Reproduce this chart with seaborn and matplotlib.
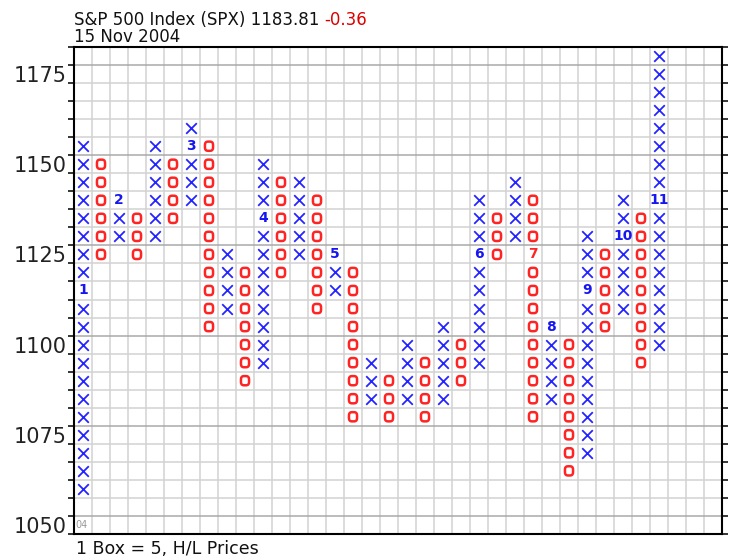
import numpy as np
import pandas as pd
import seaborn as sns
import matplotlib.pyplot as plt
from matplotlib.path import Path

# Point & figure columns, box size 5 (1-based column numbers)
col_kind = list('XOXOXOXOXOXOXOXOXOXOXOXOXOXOXOXOX')
col_low = [1060, 1125, 1130, 1125, 1130, 1135, 1140, 1105, 1110, 1090, 1095,
           1120, 1125, 1110, 1115, 1080, 1085, 1080, 1085, 1080, 1085, 1090,
           1095, 1125, 1130, 1080, 1085, 1065, 1070, 1105, 1110, 1095, 1100]
col_high = [1155, 1150, 1140, 1135, 1155, 1150, 1160, 1155, 1125, 1120, 1150,
            1145, 1145, 1140, 1125, 1120, 1095, 1090, 1100, 1095, 1105, 1100,
            1140, 1135, 1145, 1140, 1105, 1100, 1130, 1125, 1140, 1135, 1180]

# month markers that replace a box
month_col = [1, 3, 7, 11, 15, 23, 26, 27, 29, 31, 33]
month_price = [1115, 1140, 1155, 1135, 1125, 1125, 1125, 1105, 1115, 1130, 1140]
month_label = ['1', '2', '3', '4', '5', '6', '7', '8', '9', '10', '11']

ytick_vals = [1050, 1075, 1100, 1125, 1150, 1175]
box = 5
n_cols = 36

blue = '#2424ff'
red = '#ff2424'

# build one row per box
rows = []
marked = set(zip(month_col, month_price))
for i, (k, lo, hi) in enumerate(zip(col_kind, col_low, col_high)):
    for p in range(lo, hi + box, box):
        if (i + 1, p) not in marked:
            rows.append({'col': i + 1, 'price': p, 'kind': k})
boxes = pd.DataFrame(rows)

sns.set_style('white')
plt.rcParams['font.family'] = ['DejaVu Sans']

fig = plt.figure(figsize=(7.31, 5.57), dpi=100)
W, H = 731, 557
ax = fig.add_axes([74 / W, 23 / H, 648 / W, 487 / H])

ax.set_xlim(0.5, n_cols + 0.5)
ax.set_ylim(1047.5, 1182.5)

# grid
for x in np.arange(1.5, n_cols, 1):
    ax.axvline(x, color='#d2d2d2', lw=1.1, zorder=0)
for y in np.arange(1052.5, 1182.5, box):
    dark = (y - 1052.5) % 25 == 0
    ax.axhline(y, color='#a9a9a9' if dark else '#d2d2d2', lw=1.1, zorder=0)

# X marks
xs = boxes[boxes['kind'] == 'X']
sns.scatterplot(data=xs, x='col', y='price', marker='x', s=58,
                color=blue, linewidth=1.3, ax=ax, zorder=3, legend=False)

# O marks as a rounded box (superellipse)
t = np.linspace(0, 2 * np.pi, 81)
c, s_ = np.cos(t), np.sin(t)
ring = Path(np.column_stack([0.44 * np.sign(c) * np.abs(c) ** 0.6,
                             0.5 * np.sign(s_) * np.abs(s_) ** 0.6]), closed=True)
os_ = boxes[boxes['kind'] == 'O']
sns.scatterplot(data=os_, x='col', y='price', marker=ring, s=44,
                color=red, ax=ax, zorder=3, legend=False)
pc = ax.collections[-1]
pc.set_facecolor('none')
pc.set_edgecolor(red)
pc.set_linewidth(1.8)

# month numbers
for cc, p, lab in zip(month_col, month_price, month_label):
    clr = red if col_kind[cc - 1] == 'O' else '#1616f0'
    ax.text(cc, p, lab, color=clr, fontsize=10, fontweight='bold',
            ha='center', va='center', zorder=4)

ax.text(0.6, 1050, '04', color='#9a9a9a', fontsize=7, ha='left', va='center')

# axes
ax.set_xticks([])
ax.set_yticks(ytick_vals)
ax.set_yticklabels([str(v) for v in ytick_vals])
ax.set_yticks(np.arange(1047.5, 1183, box), minor=True)
ax.tick_params(axis='y', which='major', length=0, pad=5, labelsize=15,
               labelcolor='#222222')
ax.tick_params(axis='y', which='minor', length=4, width=1.1, color='black',
               direction='out', left=True, right=True)
ax.set_xlabel('')
ax.set_ylabel('')
for sp in ax.spines.values():
    sp.set_visible(True)
    sp.set_color('black')
    sp.set_linewidth(1.5)

# header and footer text
t1 = fig.text(74 / W, 1 - 25 / H, 'S&P 500 Index (SPX) 1183.81 ', fontsize=12,
              color='#111111', va='baseline', ha='left')
fig.canvas.draw()
bb = t1.get_window_extent(renderer=fig.canvas.get_renderer())
fig.text(bb.x1 / W, 1 - 25 / H, '-0.36', fontsize=12, color='#dd0000',
         va='baseline', ha='left')
fig.text(74 / W, 1 - 42 / H, '15 Nov 2004', fontsize=12, color='#111111',
         va='baseline', ha='left')
fig.text(76 / W, 3 / H, '1 Box = 5, H/L Prices', fontsize=12.5,
         color='#111111', va='baseline', ha='left')

fig.savefig('out.png', dpi=100)
